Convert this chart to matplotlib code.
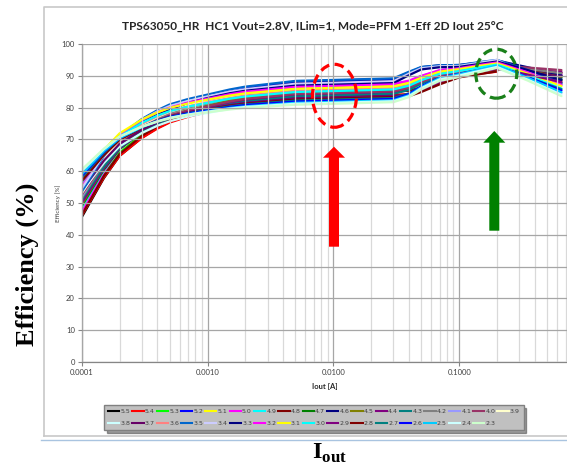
import matplotlib
matplotlib.use("Agg")
import numpy as np
import matplotlib.pyplot as plt
import matplotlib.patches as patches
from matplotlib.lines import Line2D

# output current (A) at which the curves were read
iout = [0.0001, 0.00015, 0.0002, 0.0003, 0.0004, 0.0005, 0.0007, 0.001, 0.0015, 0.002,
        0.005, 0.01, 0.03, 0.04, 0.05, 0.07, 0.1, 0.15, 0.2, 0.35, 0.65]

# efficiency (%) per input voltage
eff_5p5 = [45.5, 57.8, 64.8, 70.5, 73.6, 75.5, 77.5, 79.0, 80.7, 81.7, 83.7, 84.0, 84.5, 85.8, 87.8, 90.0, 91.0, 91.9, 92.5, 91.4, 90.0]
eff_5p4 = [46.0, 58.0, 64.8, 70.4, 73.4, 75.3, 77.1, 78.6, 80.3, 81.3, 83.2, 83.5, 84.0, 84.3, 85.5, 87.8, 89.8, 90.7, 91.3, None, None]
eff_5p3 = [46.5, 58.8, 65.8, 71.5, 74.6, 76.5, 78.5, 80.0, 81.7, 82.7, 84.7, 85.0, 85.5, 86.7, 88.5, 90.6, 91.5, 92.4, 93.0, 91.4, 89.5]
eff_5p2 = [47.5, 60.6, 68.0, 74.2, 77.4, 79.5, 81.5, 83.2, 85.0, 86.0, 88.2, 88.5, 89.0, 91.1, 92.6, 93.1, 93.2, 94.0, 94.6, 92.1, 89.0]
eff_5p1 = [48.0, 60.3, 67.3, 73.0, 76.1, 78.0, 80.0, 81.5, 83.2, 84.2, 86.2, 86.5, 87.0, 88.0, 89.5, 91.3, 92.0, 93.0, 93.6, 91.3, 88.5]
eff_5p0 = [47.0, 59.8, 67.0, 73.0, 76.2, 78.2, 80.2, 81.8, 83.6, 84.6, 86.7, 87.0, 87.5, 88.5, 90.0, 91.8, 92.5, 93.4, 94.0, 92.4, 90.5]
eff_4p9 = [48.5, 60.3, 67.0, 72.6, 75.5, 77.4, 79.2, 80.7, 82.4, 83.3, 85.2, 85.5, 86.0, 87.2, 88.9, 90.9, 91.8, 92.6, 93.2, 90.9, 88.0]
eff_4p8 = [46.2, 58.5, 65.4, 71.1, 74.2, 76.1, 78.0, 79.5, 81.2, 82.2, 84.2, 84.5, 85.0, 85.3, 86.4, 88.6, 90.5, 91.4, 92.0, 91.6, 91.0]
eff_4p7 = [49.0, 60.5, 66.9, 72.3, 75.1, 76.9, 78.7, 80.1, 81.8, 82.7, 84.5, 84.8, 85.3, 86.5, 88.3, 90.3, 91.2, 92.2, 92.8, 91.0, 88.8]
eff_4p6 = [50.5, 62.5, 69.3, 74.9, 77.9, 79.8, 81.6, 83.1, 84.8, 85.8, 87.7, 88.0, 88.5, 90.9, 92.7, 93.3, 93.4, 94.2, 94.8, 92.7, 90.2]
eff_4p5 = [49.5, 61.0, 67.4, 72.8, 75.6, 77.4, 79.2, 80.6, 82.3, 83.2, 85.0, 85.3, 85.8, 86.9, 88.6, 90.6, 91.4, 92.4, 93.0, 91.5, 89.6]
eff_4p4 = [50.0, 60.9, 67.1, 72.2, 75.0, 76.7, 78.4, 79.8, 81.3, 82.1, 83.9, 84.2, 84.7, 85.9, 87.8, 89.9, 90.8, 91.9, 92.6, 92.0, 91.2]
eff_4p3 = [51.0, 61.5, 67.4, 72.3, 74.9, 76.6, 78.2, 79.5, 81.0, 81.8, 83.5, 83.8, 84.3, 85.6, 87.5, 89.7, 90.6, 91.7, 92.4, 90.2, 87.5]
eff_4p2 = [51.5, 62.5, 68.7, 73.8, 76.5, 78.3, 80.0, 81.3, 82.9, 83.7, 85.5, 85.8, 86.3, 87.4, 89.1, 91.1, 91.9, 92.8, 93.4, 92.2, 90.8]
eff_4p1 = [52.0, 63.4, 69.8, 75.1, 77.9, 79.7, 81.5, 82.9, 84.5, 85.4, 87.2, 87.5, 88.0, 90.5, 92.3, 92.9, 93.0, 94.1, 94.9, 91.3, 87.0]
eff_4p0 = [52.5, 62.8, 68.6, 73.4, 75.9, 77.5, 79.1, 80.4, 81.9, 82.7, 84.3, 84.6, 85.1, 86.3, 88.1, 90.1, 91.0, 92.3, 93.2, 92.6, 91.8]
eff_3p9 = [53.0, 63.6, 69.5, 74.5, 77.1, 78.7, 80.4, 81.7, 83.2, 84.0, 85.7, 86.0, 86.5, 87.6, 89.4, 91.3, 92.2, 93.2, 93.8, 90.5, 86.5]
eff_3p8 = [53.5, 62.6, 67.8, 72.0, 74.3, 75.7, 77.2, 78.3, 79.6, 80.3, 81.7, 82.0, 82.5, 84.0, 86.3, 88.9, 90.0, 91.4, 92.3, 89.0, 85.0]
eff_3p7 = [54.0, 63.3, 68.6, 73.0, 75.3, 76.8, 78.2, 79.4, 80.7, 81.4, 82.9, 83.2, 83.7, 84.0, 85.4, 88.0, 90.3, 91.4, 92.2, 91.1, 89.8]
eff_3p6 = [55.0, 64.8, 70.3, 74.9, 77.3, 78.9, 80.4, 81.6, 83.0, 83.8, 85.3, 85.6, 86.1, 87.2, 88.9, 90.8, 91.6, 92.6, 93.3, 91.0, 88.2]
eff_3p5 = [53.5, 64.8, 71.1, 76.4, 79.2, 81.0, 82.7, 84.1, 85.7, 86.6, 88.4, 88.7, 89.2, 91.3, 92.8, 93.3, 93.4, 94.4, 95.0, 91.8, 87.8]
eff_3p4 = [54.5, 65.2, 71.2, 76.1, 78.8, 80.5, 82.1, 83.5, 85.0, 85.8, 87.5, 87.8, 88.3, 90.7, 92.4, 93.0, 93.1, 94.2, 95.0, 90.3, 84.5]
eff_3p3 = [59.5, 66.5, 71.5, 75.5, 77.8, 79.5, 81.5, 83.0, 84.5, 85.3, 86.9, 87.2, 87.7, 90.2, 92.0, 92.7, 92.8, 93.8, 94.5, 91.8, 88.6]
eff_3p2 = [56.0, 65.9, 71.4, 76.0, 78.5, 80.0, 81.6, 82.8, 84.2, 85.0, 86.5, 86.8, 87.3, 88.3, 89.9, 91.6, 92.4, 93.5, 94.2, 91.1, 87.2]
eff_3p1 = [57.5, 66.7, 71.9, 76.2, 78.5, 79.9, 81.3, 82.5, 83.8, 84.5, 85.9, 86.2, 86.7, 87.8, 89.4, 91.3, 92.1, 93.2, 93.9, 90.7, 86.8]
eff_3p0 = [56.5, 65.7, 70.9, 75.2, 77.5, 78.9, 80.3, 81.5, 82.8, 83.5, 84.9, 85.2, 85.7, 86.9, 88.6, 90.6, 91.5, 92.7, 93.5, 90.1, 86.0]
eff_2p9 = [57.0, 65.3, 70.0, 73.9, 76.0, 77.3, 78.6, 79.6, 80.8, 81.4, 82.7, 83.0, 83.5, 83.8, 85.2, 87.9, 90.2, 91.5, 92.4, 90.4, 88.0]
eff_2p8 = [56.8, 65.1, 69.8, 73.7, 75.8, 77.1, 78.4, 79.4, 80.6, 81.2, 82.5, 82.8, 83.3, 83.6, 84.9, 87.3, 89.5, 90.6, 91.4, None, None]
eff_2p7 = [58.0, 65.8, 70.3, 73.9, 75.9, 77.1, 78.3, 79.3, 80.4, 81.0, 82.2, 82.5, 83.0, 84.5, 86.7, 89.3, 90.4, 91.7, 92.6, 89.5, 85.8]
eff_2p6 = [58.5, 66.1, 70.4, 73.9, 75.8, 77.0, 78.2, 79.1, 80.2, 80.8, 81.9, 82.2, 82.7, 84.3, 86.7, 89.4, 90.6, 92.0, 93.0, 89.6, 85.4]
eff_2p5 = [59.0, 66.3, 70.4, 73.8, 75.6, 76.8, 77.9, 78.8, 79.9, 80.4, 81.5, 81.8, 82.3, 83.9, 86.4, 89.3, 90.5, 92.1, 93.2, 89.4, 84.8]
eff_2p4 = [60.0, 66.9, 70.8, 74.0, 75.7, 76.8, 77.8, 78.7, 79.7, 80.2, 81.2, 81.5, 82.0, 83.6, 86.1, 88.9, 90.1, 91.7, 92.8, 88.8, 84.0]
eff_2p3 = [60.5, 67.1, 70.9, 74.0, 75.6, 76.6, 77.7, 78.5, 79.4, 79.9, 80.9, 81.2, 81.7, 83.3, 85.7, 88.4, 89.6, 91.3, 92.5, 88.5, 83.6]

vin_labels = ["5.5", "5.4", "5.3", "5.2", "5.1", "5.0", "4.9", "4.8", "4.7", "4.6", "4.5",
              "4.4", "4.3", "4.2", "4.1", "4.0", "3.9", "3.8", "3.7", "3.6", "3.5", "3.4",
              "3.3", "3.2", "3.1", "3.0", "2.9", "2.8", "2.7", "2.6", "2.5", "2.4", "2.3"]
series = [eff_5p5, eff_5p4, eff_5p3, eff_5p2, eff_5p1, eff_5p0, eff_4p9, eff_4p8, eff_4p7,
          eff_4p6, eff_4p5, eff_4p4, eff_4p3, eff_4p2, eff_4p1, eff_4p0, eff_3p9, eff_3p8,
          eff_3p7, eff_3p6, eff_3p5, eff_3p4, eff_3p3, eff_3p2, eff_3p1, eff_3p0, eff_2p9,
          eff_2p8, eff_2p7, eff_2p6, eff_2p5, eff_2p4, eff_2p3]
# excel default chart palette
colors = ["#000000", "#ff0000", "#00ff00", "#0000ff", "#ffff00", "#ff00ff", "#00ffff",
          "#800000", "#008000", "#000080", "#808000", "#800080", "#008080", "#808080",
          "#9999ff", "#993366", "#ffffcc", "#ccffff", "#660066", "#ff8080", "#0066cc",
          "#ccccff", "#000080", "#ff00ff", "#ffff00", "#00ffff", "#800080", "#800000",
          "#008080", "#0000ff", "#00ccff", "#ccffff", "#ccffcc"]

y_ticks = [0, 10, 20, 30, 40, 50, 60, 70, 80, 90, 100]
x_ticks = [0.0001, 0.001, 0.01, 0.1]
x_ticklabels = ["0.0001", "0.0010", "0.0100", "0.1000"]

W, H = 567, 467
plt.rcParams['mathtext.fontset'] = 'custom'
plt.rcParams['mathtext.bf'] = 'Liberation Serif:bold'
plt.rcParams['mathtext.rm'] = 'Liberation Serif'

def px(x, y):
	return (x / W, 1 - y / H)

fig = plt.figure(figsize=(W / 100, H / 100), dpi=100)

# frame of the excel chart area
fig.add_artist(Line2D([44 / W, 44 / W, 1.0], [1 - 436 / H, 1 - 7 / H, 1 - 7 / H],
                      transform=fig.transFigure, color="#c8c8c8", lw=1.2))
fig.add_artist(Line2D([44 / W, 1.0], [1 - 436 / H, 1 - 436 / H],
                      transform=fig.transFigure, color="#c8c8c8", lw=1.2))
fig.add_artist(Line2D([41 / W, 1.0], [1 - 439.5 / H, 1 - 439.5 / H],
                      transform=fig.transFigure, color="#a9c4e0", lw=1.0))

left = 81.7 / W
bottom = 1 - 362 / H
ax = fig.add_axes([left, bottom, (585 - 81.7) / W, (362 - 44) / H])
for i in range(len(series)):
	y = np.array([np.nan if v is None else v for v in series[i]])
	ax.plot(iout, y, color=colors[i], lw=1.6, solid_capstyle='round', solid_joinstyle='round')

ax.set_xscale('log')
ax.set_xlim(0.0001, 1.0)
ax.set_ylim(0, 100)
ax.set_xticks(x_ticks)
ax.set_xticklabels(x_ticklabels)
ax.set_yticks(y_ticks)
ax.set_axisbelow(False)
ax.grid(which='major', color="#a6a6a6", lw=0.9)
ax.grid(which='minor', axis='x', color="#d9d9d9", lw=0.9)
ax.tick_params(which='major', length=3, width=0.8, color="#868686",
               labelsize=5.5, labelcolor="#404040", pad=2)
ax.tick_params(which='minor', length=0)
for lab in ax.get_xticklabels() + ax.get_yticklabels():
	lab.set_family('Lato')
for s in ['top', 'right']:
	ax.spines[s].set_visible(False)
for s in ['left', 'bottom']:
	ax.spines[s].set_color("#868686")
	ax.spines[s].set_linewidth(0.9)

# titles and labels
fig.text(*px(313, 26), "TPS63050_HR  HC1 Vout=2.8V, ILim=1, Mode=PFM 1-Eff 2D Iout 25°C",
         ha='center', va='center', fontsize=8.6, family='Lato', weight='bold', color="#262626")
fig.text(*px(58, 203), "Efficiency [%]", rotation=90, ha='center', va='center',
         fontsize=4.5, family='Lato', color="#404040")
fig.text(*px(325, 387), "Iout [A]", ha='center', va='center',
         fontsize=5.5, family='Lato', weight='bold', color="#262626")
fig.text(*px(27, 264), "Efficiency (%)", rotation=90, ha='center', va='center',
         fontsize=19, family='Liberation Serif', weight='bold')
fig.text(*px(330, 441), r"$\mathbf{I}_{\mathbf{out}}$", ha='center', va='top', fontsize=17.5)

# legend, two rows filled row-wise
handles = [Line2D([], [], color=c, lw=1.5) for c in colors]
row1 = list(range(17))
row2 = list(range(17, 33))
order = []
for i in range(16):
	order += [row1[i], row2[i]]
order.append(row1[16])
leg = fig.legend([handles[i] for i in order], [vin_labels[i] for i in order],
                 ncol=17, loc='center', bbox_to_anchor=px(314, 417.5),
                 fontsize=4.5, handlelength=1.8, handletextpad=0.2, columnspacing=0.3,
                 labelspacing=1.0, borderpad=0.6, borderaxespad=0, frameon=True, fancybox=False,
                 shadow=True, facecolor="#c0c0c0", edgecolor="#808080", framealpha=1)
for t in leg.get_texts():
	t.set_color("#404040")

# highlight shapes
fig.add_artist(patches.Ellipse(px(334.5, 95.8), 44 / W, 63 / H, transform=fig.transFigure,
                               fill=False, edgecolor="#ff0000", lw=2.3, ls=(0, (3, 1.7))))
fig.add_artist(patches.Ellipse(px(496.3, 73.7), 41 / W, 49 / H, transform=fig.transFigure,
                               fill=False, edgecolor="#1a801a", lw=2.3, ls=(0, (3, 1.7))))
fig.add_artist(patches.FancyArrow(334 / W, 1 - 246.7 / H, 0, 100 / H, width=10 / W,
                                  head_width=22 / W, head_length=11 / H,
                                  length_includes_head=True, transform=fig.transFigure,
                                  color="#ff0000", lw=0))
fig.add_artist(patches.FancyArrow(494.3 / W, 1 - 230.7 / H, 0, 99.7 / H, width=10 / W,
                                  head_width=22 / W, head_length=11.7 / H,
                                  length_includes_head=True, transform=fig.transFigure,
                                  color="#008000", lw=0))

fig.savefig("out.png", dpi=100)
